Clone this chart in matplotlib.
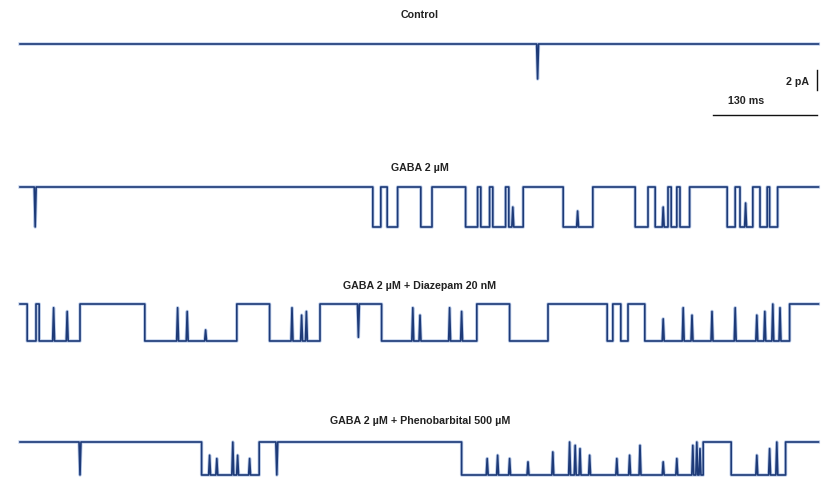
import numpy as np
import matplotlib
matplotlib.use('Agg')
import matplotlib.pyplot as plt

# single-channel records
# *_open: open periods (start, end) in ms
# *_flick: brief transitions (time ms, fraction of one opening amplitude)
record_ms = 998

control_open = []
control_flick = [(647, 1.0)]

gaba_open = [(441, 451), (459, 472), (501, 515), (557, 572), (576, 587),
             (591, 607), (611, 629), (679, 716), (769, 785), (794, 810), (814, 821),
             (825, 837), (884, 894), (900, 916), (925, 934), (937, 947)]
gaba_flick = [(19, 1.0), (616, 0.5), (697, 0.4), (804, 0.5), (907, 0.6)]

diazepam_open = [(9, 20), (24, 75), (156, 271), (312, 375), (452, 571),
                 (612, 660), (734, 741), (751, 760), (781, 962)]
diazepam_flick = [(42, 0.9), (59, 0.8), (197, 0.9), (209, 0.8), (232, 0.3),
                  (340, 0.9), (352, 0.7), (358, 0.8), (423, 0.9), (491, 0.9),
                  (500, 0.7), (537, 0.9), (552, 0.8), (804, 0.6), (829, 0.9),
                  (840, 0.7), (865, 0.8), (894, 0.9), (921, 0.7), (931, 0.8),
                  (941, 1.0), (950, 0.9)]

pheno_open = [(227, 299), (552, 854), (889, 957)]
pheno_flick = [(75, 1.0), (237, 0.6), (246, 0.5), (266, 1.0), (272, 0.6),
               (287, 0.5), (321, 1.0), (584, 0.5), (597, 0.6), (612, 0.5),
               (635, 0.4), (666, 0.7), (687, 1.0), (694, 0.9), (700, 0.8),
               (712, 0.6), (746, 0.5), (762, 0.6), (775, 0.9), (804, 0.4),
               (821, 0.5), (841, 0.9), (846, 1.0), (850, 0.8), (921, 0.6),
               (937, 0.8), (946, 1.0)]

# current amplitude of one opening (pA)
amplitudes = [3.5, 4.0, 3.7, 3.3]

titles = ['Control', 'GABA 2 \u00b5M', 'GABA 2 \u00b5M + Diazepam 20 nM',
          'GABA 2 \u00b5M + Phenobarbital 500 \u00b5M']

records = [(control_open, control_flick), (gaba_open, gaba_flick),
           (diazepam_open, diazepam_flick), (pheno_open, pheno_flick)]


def build_trace(openings, flicks, base, amp, hw=1.2):
    pts = [(0, base)]
    for t0, t1 in openings:
        pts += [(t0, base), (t0, base - amp), (t1, base - amp), (t1, base)]
    pts.append((record_ms, base))
    xs = np.array([p[0] for p in pts], dtype=float)
    ys = np.array([p[1] for p in pts], dtype=float)
    for t, frac in flicks:
        is_open = any(t0 < t < t1 for t0, t1 in openings)
        level = base - amp if is_open else base
        peak = level + amp * frac if is_open else level - amp * frac
        i = np.searchsorted(xs, t)
        xs = np.insert(xs, i, [t - hw, t, t + hw])
        ys = np.insert(ys, i, [level, peak, level])
    return xs, ys


fig = plt.figure(figsize=(8.34, 5.0), dpi=100)
ax = fig.add_axes([0, 0, 1, 1])
ax.set_xlim(-25, 1017.5)
ax.set_ylim(-50, 0)
ax.axis('off')

baselines = [-4.4, -18.7, -30.4, -44.2]
title_y = [-1.5, -16.8, -28.6, -42.1]
trace_color = '#1d3a78'
txt = dict(fontsize=7.7, color='#222222', family='Liberation Sans', fontweight='bold')

for (openings, flicks), base, amp, title, ty in zip(records, baselines, amplitudes,
                                                     titles, title_y):
    x, y = build_trace(openings, flicks, base, amp)
    ax.plot(x, y, color='#6a8fd0', lw=2.4, alpha=0.45)
    ax.plot(x, y, color=trace_color, lw=1.2)
    ax.text(500, ty, title, ha='center', va='center', **txt)

# scale bars: 2 pA, 130 ms
ax.plot([996, 996], [-7.0, -9.0], color='#111111', lw=1.0)
ax.text(986, -8.2, '2 pA', ha='right', va='center', **txt)
ax.plot([996 - 130, 996], [-11.5, -11.5], color='#111111', lw=1.0)
ax.text(908, -10.1, '130 ms', ha='center', va='center', **txt)

fig.savefig('out.png', dpi=100, facecolor='white')
